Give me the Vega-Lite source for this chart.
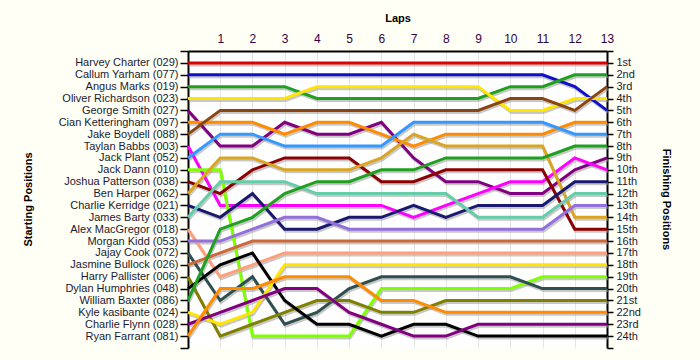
{
  "$schema": "https://vega.github.io/schema/vega-lite/v6.json",
  "autosize": {"type": "none"},
  "padding": {"left": 188, "top": 51, "right": 93, "bottom": 12},
  "width": 419,
  "height": 297,
  "background": "#fffff6",
  "config": {
    "view": {"fill": "white", "stroke": null},
    "font": "Liberation Sans",
    "axis": {"labelFont": "Liberation Sans", "titleFont": "Liberation Sans", "labelFontSize": 11, "titleFontSize": 11, "labelColor": "#1a1a33", "titleColor": "#000000", "domainColor": "#000000", "tickColor": "#000000"}
  },
  "data": {"values": [
    {"start":1,"lap":0,"pos":1},{"start":1,"lap":1,"pos":1},{"start":1,"lap":2,"pos":1},{"start":1,"lap":3,"pos":1},{"start":1,"lap":4,"pos":1},{"start":1,"lap":5,"pos":1},{"start":1,"lap":6,"pos":1},{"start":1,"lap":7,"pos":1},{"start":1,"lap":8,"pos":1},{"start":1,"lap":9,"pos":1},{"start":1,"lap":10,"pos":1},{"start":1,"lap":11,"pos":1},{"start":1,"lap":12,"pos":1},{"start":1,"lap":13,"pos":1},
    {"start":2,"lap":0,"pos":2},{"start":2,"lap":1,"pos":2},{"start":2,"lap":2,"pos":2},{"start":2,"lap":3,"pos":2},{"start":2,"lap":4,"pos":2},{"start":2,"lap":5,"pos":2},{"start":2,"lap":6,"pos":2},{"start":2,"lap":7,"pos":2},{"start":2,"lap":8,"pos":2},{"start":2,"lap":9,"pos":2},{"start":2,"lap":10,"pos":2},{"start":2,"lap":11,"pos":2},{"start":2,"lap":12,"pos":3},{"start":2,"lap":13,"pos":5},
    {"start":3,"lap":0,"pos":3},{"start":3,"lap":1,"pos":3},{"start":3,"lap":2,"pos":3},{"start":3,"lap":3,"pos":3},{"start":3,"lap":4,"pos":4},{"start":3,"lap":5,"pos":4},{"start":3,"lap":6,"pos":4},{"start":3,"lap":7,"pos":4},{"start":3,"lap":8,"pos":4},{"start":3,"lap":9,"pos":4},{"start":3,"lap":10,"pos":3},{"start":3,"lap":11,"pos":3},{"start":3,"lap":12,"pos":2},{"start":3,"lap":13,"pos":2},
    {"start":4,"lap":0,"pos":4},{"start":4,"lap":1,"pos":4},{"start":4,"lap":2,"pos":4},{"start":4,"lap":3,"pos":4},{"start":4,"lap":4,"pos":3},{"start":4,"lap":5,"pos":3},{"start":4,"lap":6,"pos":3},{"start":4,"lap":7,"pos":3},{"start":4,"lap":8,"pos":3},{"start":4,"lap":9,"pos":3},{"start":4,"lap":10,"pos":5},{"start":4,"lap":11,"pos":5},{"start":4,"lap":12,"pos":4},{"start":4,"lap":13,"pos":4},
    {"start":5,"lap":0,"pos":5},{"start":5,"lap":1,"pos":8},{"start":5,"lap":2,"pos":8},{"start":5,"lap":3,"pos":6},{"start":5,"lap":4,"pos":7},{"start":5,"lap":5,"pos":7},{"start":5,"lap":6,"pos":6},{"start":5,"lap":7,"pos":9},{"start":5,"lap":8,"pos":11},{"start":5,"lap":9,"pos":11},{"start":5,"lap":10,"pos":12},{"start":5,"lap":11,"pos":12},{"start":5,"lap":12,"pos":10},{"start":5,"lap":13,"pos":9},
    {"start":6,"lap":0,"pos":6},{"start":6,"lap":1,"pos":6},{"start":6,"lap":2,"pos":6},{"start":6,"lap":3,"pos":7},{"start":6,"lap":4,"pos":6},{"start":6,"lap":5,"pos":6},{"start":6,"lap":6,"pos":7},{"start":6,"lap":7,"pos":8},{"start":6,"lap":8,"pos":7},{"start":6,"lap":9,"pos":7},{"start":6,"lap":10,"pos":7},{"start":6,"lap":11,"pos":7},{"start":6,"lap":12,"pos":6},{"start":6,"lap":13,"pos":6},
    {"start":7,"lap":0,"pos":7},{"start":7,"lap":1,"pos":5},{"start":7,"lap":2,"pos":5},{"start":7,"lap":3,"pos":5},{"start":7,"lap":4,"pos":5},{"start":7,"lap":5,"pos":5},{"start":7,"lap":6,"pos":5},{"start":7,"lap":7,"pos":5},{"start":7,"lap":8,"pos":5},{"start":7,"lap":9,"pos":5},{"start":7,"lap":10,"pos":4},{"start":7,"lap":11,"pos":4},{"start":7,"lap":12,"pos":5},{"start":7,"lap":13,"pos":3},
    {"start":8,"lap":0,"pos":8},{"start":8,"lap":1,"pos":13},{"start":8,"lap":2,"pos":13},{"start":8,"lap":3,"pos":13},{"start":8,"lap":4,"pos":13},{"start":8,"lap":5,"pos":13},{"start":8,"lap":6,"pos":13},{"start":8,"lap":7,"pos":14},{"start":8,"lap":8,"pos":13},{"start":8,"lap":9,"pos":12},{"start":8,"lap":10,"pos":11},{"start":8,"lap":11,"pos":11},{"start":8,"lap":12,"pos":9},{"start":8,"lap":13,"pos":10},
    {"start":9,"lap":0,"pos":9},{"start":9,"lap":1,"pos":7},{"start":9,"lap":2,"pos":7},{"start":9,"lap":3,"pos":8},{"start":9,"lap":4,"pos":8},{"start":9,"lap":5,"pos":8},{"start":9,"lap":6,"pos":8},{"start":9,"lap":7,"pos":6},{"start":9,"lap":8,"pos":6},{"start":9,"lap":9,"pos":6},{"start":9,"lap":10,"pos":6},{"start":9,"lap":11,"pos":6},{"start":9,"lap":12,"pos":7},{"start":9,"lap":13,"pos":7},
    {"start":10,"lap":0,"pos":10},{"start":10,"lap":1,"pos":10},{"start":10,"lap":2,"pos":24},{"start":10,"lap":3,"pos":24},{"start":10,"lap":4,"pos":24},{"start":10,"lap":5,"pos":24},{"start":10,"lap":6,"pos":20},{"start":10,"lap":7,"pos":20},{"start":10,"lap":8,"pos":20},{"start":10,"lap":9,"pos":20},{"start":10,"lap":10,"pos":20},{"start":10,"lap":11,"pos":19},{"start":10,"lap":12,"pos":19},{"start":10,"lap":13,"pos":19},
    {"start":11,"lap":0,"pos":11},{"start":11,"lap":1,"pos":12},{"start":11,"lap":2,"pos":10},{"start":11,"lap":3,"pos":9},{"start":11,"lap":4,"pos":9},{"start":11,"lap":5,"pos":9},{"start":11,"lap":6,"pos":11},{"start":11,"lap":7,"pos":11},{"start":11,"lap":8,"pos":10},{"start":11,"lap":9,"pos":10},{"start":11,"lap":10,"pos":10},{"start":11,"lap":11,"pos":10},{"start":11,"lap":12,"pos":15},{"start":11,"lap":13,"pos":15},
    {"start":12,"lap":0,"pos":12},{"start":12,"lap":1,"pos":9},{"start":12,"lap":2,"pos":9},{"start":12,"lap":3,"pos":10},{"start":12,"lap":4,"pos":10},{"start":12,"lap":5,"pos":10},{"start":12,"lap":6,"pos":9},{"start":12,"lap":7,"pos":7},{"start":12,"lap":8,"pos":8},{"start":12,"lap":9,"pos":8},{"start":12,"lap":10,"pos":8},{"start":12,"lap":11,"pos":8},{"start":12,"lap":12,"pos":14},{"start":12,"lap":13,"pos":14},
    {"start":13,"lap":0,"pos":13},{"start":13,"lap":1,"pos":14},{"start":13,"lap":2,"pos":12},{"start":13,"lap":3,"pos":15},{"start":13,"lap":4,"pos":15},{"start":13,"lap":5,"pos":14},{"start":13,"lap":6,"pos":14},{"start":13,"lap":7,"pos":13},{"start":13,"lap":8,"pos":14},{"start":13,"lap":9,"pos":13},{"start":13,"lap":10,"pos":13},{"start":13,"lap":11,"pos":13},{"start":13,"lap":12,"pos":11},{"start":13,"lap":13,"pos":11},
    {"start":14,"lap":0,"pos":14},{"start":14,"lap":1,"pos":11},{"start":14,"lap":2,"pos":11},{"start":14,"lap":3,"pos":11},{"start":14,"lap":4,"pos":12},{"start":14,"lap":5,"pos":12},{"start":14,"lap":6,"pos":12},{"start":14,"lap":7,"pos":12},{"start":14,"lap":8,"pos":12},{"start":14,"lap":9,"pos":14},{"start":14,"lap":10,"pos":14},{"start":14,"lap":11,"pos":14},{"start":14,"lap":12,"pos":12},{"start":14,"lap":13,"pos":12},
    {"start":15,"lap":0,"pos":15},{"start":15,"lap":1,"pos":19},{"start":15,"lap":2,"pos":18},{"start":15,"lap":3,"pos":17},{"start":15,"lap":4,"pos":17},{"start":15,"lap":5,"pos":17},{"start":15,"lap":6,"pos":17},{"start":15,"lap":7,"pos":17},{"start":15,"lap":8,"pos":17},{"start":15,"lap":9,"pos":17},{"start":15,"lap":10,"pos":17},{"start":15,"lap":11,"pos":17},{"start":15,"lap":12,"pos":17},{"start":15,"lap":13,"pos":17},
    {"start":16,"lap":0,"pos":16},{"start":16,"lap":1,"pos":16},{"start":16,"lap":2,"pos":15},{"start":16,"lap":3,"pos":14},{"start":16,"lap":4,"pos":14},{"start":16,"lap":5,"pos":15},{"start":16,"lap":6,"pos":15},{"start":16,"lap":7,"pos":15},{"start":16,"lap":8,"pos":15},{"start":16,"lap":9,"pos":15},{"start":16,"lap":10,"pos":15},{"start":16,"lap":11,"pos":15},{"start":16,"lap":12,"pos":13},{"start":16,"lap":13,"pos":13},
    {"start":17,"lap":0,"pos":17},{"start":17,"lap":1,"pos":21},{"start":17,"lap":2,"pos":19},{"start":17,"lap":3,"pos":23},{"start":17,"lap":4,"pos":22},{"start":17,"lap":5,"pos":20},{"start":17,"lap":6,"pos":19},{"start":17,"lap":7,"pos":19},{"start":17,"lap":8,"pos":19},{"start":17,"lap":9,"pos":19},{"start":17,"lap":10,"pos":19},{"start":17,"lap":11,"pos":20},{"start":17,"lap":12,"pos":20},{"start":17,"lap":13,"pos":20},
    {"start":18,"lap":0,"pos":18},{"start":18,"lap":1,"pos":17},{"start":18,"lap":2,"pos":16},{"start":18,"lap":3,"pos":16},{"start":18,"lap":4,"pos":16},{"start":18,"lap":5,"pos":16},{"start":18,"lap":6,"pos":16},{"start":18,"lap":7,"pos":16},{"start":18,"lap":8,"pos":16},{"start":18,"lap":9,"pos":16},{"start":18,"lap":10,"pos":16},{"start":18,"lap":11,"pos":16},{"start":18,"lap":12,"pos":16},{"start":18,"lap":13,"pos":16},
    {"start":19,"lap":0,"pos":19},{"start":19,"lap":1,"pos":24},{"start":19,"lap":2,"pos":23},{"start":19,"lap":3,"pos":22},{"start":19,"lap":4,"pos":21},{"start":19,"lap":5,"pos":21},{"start":19,"lap":6,"pos":22},{"start":19,"lap":7,"pos":22},{"start":19,"lap":8,"pos":21},{"start":19,"lap":9,"pos":21},{"start":19,"lap":10,"pos":21},{"start":19,"lap":11,"pos":21},{"start":19,"lap":12,"pos":21},{"start":19,"lap":13,"pos":21},
    {"start":20,"lap":0,"pos":20},{"start":20,"lap":1,"pos":18},{"start":20,"lap":2,"pos":17},{"start":20,"lap":3,"pos":21},{"start":20,"lap":4,"pos":23},{"start":20,"lap":5,"pos":23},{"start":20,"lap":6,"pos":24},{"start":20,"lap":7,"pos":23},{"start":20,"lap":8,"pos":23},{"start":20,"lap":9,"pos":24},{"start":20,"lap":10,"pos":24},{"start":20,"lap":11,"pos":24},{"start":20,"lap":12,"pos":24},{"start":20,"lap":13,"pos":24},
    {"start":21,"lap":0,"pos":21},{"start":21,"lap":1,"pos":15},{"start":21,"lap":2,"pos":14},{"start":21,"lap":3,"pos":12},{"start":21,"lap":4,"pos":11},{"start":21,"lap":5,"pos":11},{"start":21,"lap":6,"pos":10},{"start":21,"lap":7,"pos":10},{"start":21,"lap":8,"pos":9},{"start":21,"lap":9,"pos":9},{"start":21,"lap":10,"pos":9},{"start":21,"lap":11,"pos":9},{"start":21,"lap":12,"pos":8},{"start":21,"lap":13,"pos":8},
    {"start":22,"lap":0,"pos":22},{"start":22,"lap":1,"pos":23},{"start":22,"lap":2,"pos":22},{"start":22,"lap":3,"pos":18},{"start":22,"lap":4,"pos":18},{"start":22,"lap":5,"pos":18},{"start":22,"lap":6,"pos":18},{"start":22,"lap":7,"pos":18},{"start":22,"lap":8,"pos":18},{"start":22,"lap":9,"pos":18},{"start":22,"lap":10,"pos":18},{"start":22,"lap":11,"pos":18},{"start":22,"lap":12,"pos":18},{"start":22,"lap":13,"pos":18},
    {"start":23,"lap":0,"pos":23},{"start":23,"lap":1,"pos":22},{"start":23,"lap":2,"pos":21},{"start":23,"lap":3,"pos":20},{"start":23,"lap":4,"pos":20},{"start":23,"lap":5,"pos":22},{"start":23,"lap":6,"pos":23},{"start":23,"lap":7,"pos":24},{"start":23,"lap":8,"pos":24},{"start":23,"lap":9,"pos":23},{"start":23,"lap":10,"pos":23},{"start":23,"lap":11,"pos":23},{"start":23,"lap":12,"pos":23},{"start":23,"lap":13,"pos":23},
    {"start":24,"lap":0,"pos":24},{"start":24,"lap":1,"pos":20},{"start":24,"lap":2,"pos":20},{"start":24,"lap":3,"pos":19},{"start":24,"lap":4,"pos":19},{"start":24,"lap":5,"pos":19},{"start":24,"lap":6,"pos":21},{"start":24,"lap":7,"pos":21},{"start":24,"lap":8,"pos":22},{"start":24,"lap":9,"pos":22},{"start":24,"lap":10,"pos":22},{"start":24,"lap":11,"pos":22},{"start":24,"lap":12,"pos":22},{"start":24,"lap":13,"pos":22}
  ]},
  "resolve": {"axis": {"y": "independent"}},
  "layer": [
    {
      "mark": {"type": "line", "color": "#9a9a9a", "opacity": 0.55, "strokeWidth": 3, "xOffset": 1, "yOffset": 2},
      "encoding": {
        "x": {"field": "lap", "type": "quantitative", "scale": {"domain": [0, 13], "nice": false, "zero": false},
          "axis": {"orient": "top", "values": [1,2,3,4,5,6,7,8,9,10,11,12,13], "title": "Laps", "titleFontWeight": "bold", "titleY": -33, "titleBaseline": "middle", "ticks": false, "labelPadding": 6, "labelColor": "#330044", "labelFontSize": 12, "grid": true, "gridColor": "#e6e6e6", "gridWidth": 1, "domainWidth": 2, "labelFlush": false}},
        "y": {"field": "pos", "type": "quantitative", "scale": {"domain": [0, 25], "reverse": true, "nice": false, "zero": false},
          "axis": {"orient": "left", "values": [0,1,2,3,4,5,6,7,8,9,10,11,12,13,14,15,16,17,18,19,20,21,22,23,24,25],
            "labelExpr": "datum.value >= 1 && datum.value <= 24 ? ['Harvey Charter (029)','Callum Yarham (077)','Angus Marks (019)','Oliver Richardson (023)','George Smith (027)','Cian Ketteringham (097)','Jake Boydell (088)','Taylan Babbs (003)','Jack Plant (052)','Jack Dann (010)','Joshua Patterson (038)','Ben Harper (062)','Charlie Kerridge (021)','James Barty (033)','Alex MacGregor (018)','Morgan Kidd (053)','Jajay Cook (072)','Jasmine Bullock (026)','Harry Pallister (006)','Dylan Humphries (048)','William Baxter (086)','Kyle kasibante (024)','Charlie Flynn (028)','Ryan Farrant (081)'][datum.value - 1] : ''",
            "title": "Starting Positions", "titleFontWeight": "bold", "titleX": -160, "titleY": 148, "titleAngle": -90, "titleAlign": "center", "titleBaseline": "middle",
            "tickSize": 8, "tickWidth": 1.5, "labelPadding": 2, "domainWidth": 2, "grid": false, "labelFlush": false, "labelOverlap": false}},
        "detail": {"field": "start", "type": "nominal"}
      }
    },
    {
      "mark": {"type": "line", "strokeWidth": 3},
      "encoding": {
        "x": {"field": "lap", "type": "quantitative", "scale": {"domain": [0, 13], "nice": false, "zero": false},
          "axis": {"orient": "top", "values": [1,2,3,4,5,6,7,8,9,10,11,12,13], "title": "Laps", "titleFontWeight": "bold", "titleY": -33, "titleBaseline": "middle", "ticks": false, "labelPadding": 6, "labelColor": "#330044", "labelFontSize": 12, "grid": true, "gridColor": "#e6e6e6", "gridWidth": 1, "domainWidth": 2, "labelFlush": false}},
        "y": {"field": "pos", "type": "quantitative", "scale": {"domain": [0, 25], "reverse": true, "nice": false, "zero": false},
          "axis": {"orient": "right", "values": [0,1,2,3,4,5,6,7,8,9,10,11,12,13,14,15,16,17,18,19,20,21,22,23,24,25],
            "labelExpr": "datum.value >= 1 && datum.value <= 24 ? datum.value + ((datum.value % 10 == 1 && datum.value != 11) ? 'st' : (datum.value % 10 == 2 && datum.value != 12) ? 'nd' : (datum.value % 10 == 3 && datum.value != 13) ? 'rd' : 'th') : ''",
            "title": "Finishing Positions", "titleFontWeight": "bold", "titleX": 58, "titleY": 148, "titleAngle": 90, "titleAlign": "center", "titleBaseline": "middle",
            "tickSize": 6, "tickWidth": 1.5, "labelPadding": 3, "domainWidth": 2, "grid": false, "labelFlush": false, "labelOverlap": false, "labelFontSize": 11}},
        "color": {"field": "start", "type": "nominal", "legend": null,
          "scale": {"domain": [1,2,3,4,5,6,7,8,9,10,11,12,13,14,15,16,17,18,19,20,21,22,23,24],
            "range": ["#e00000","#1010cc","#20a020","#ffe600","#800080","#ff8c00","#8b4513","#ff00ff","#3399ff","#7fff00","#8b0000","#daa520","#191970","#66cdaa","#ffa07a","#9370db","#2f4f4f","#cd6839","#808000","#000000","#20a020","#ffe600","#800080","#ff8c00"]}}
      }
    }
  ]
}
